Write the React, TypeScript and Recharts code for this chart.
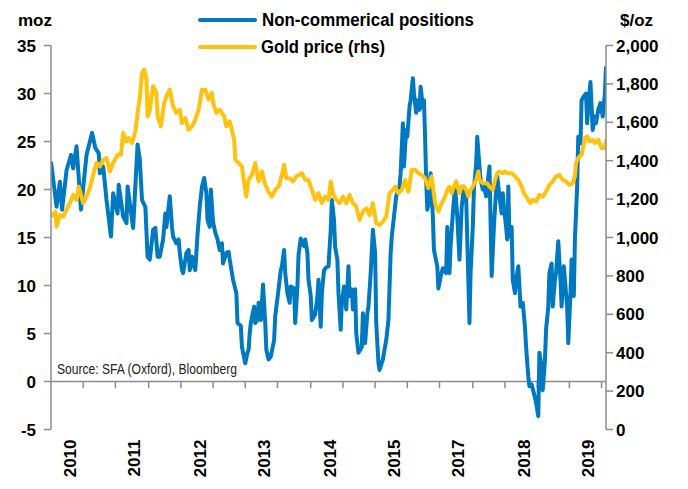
import React from "react";
import { LineChart, Line, XAxis, YAxis, ReferenceLine } from "recharts";

const BLUE = "#0079C1";
const GOLD = "#FFC20E";
const AXIS = "#8C8C8C";
const FONT = "'Liberation Sans', Arial, sans-serif";

// x axis runs in weeks from the start of 2010
const yearLabels = ["2010", "2011", "2012", "2013", "2014", "2015", "2017", "2018", "2019"];
const yearLabelWeeks = [17, 75, 134, 192, 251, 309, 367, 426, 484];
const axisTickWeeks = [29, 58, 88, 117, 146, 175, 204, 234, 263, 292, 321, 350, 380, 409, 438, 467, 496];
const leftTicks = [-5, 0, 5, 10, 15, 20, 25, 30, 35];
const rightTicks = [0, 200, 400, 600, 800, 1000, 1200, 1400, 1600, 1800, 2000];

// Non-commercial positions, moz
const positionWeeks = [
    0, 5, 8, 10, 14, 18, 20, 23, 27, 32, 37, 40, 43, 44, 47, 50, 54, 56, 60, 61, 65, 68, 69, 74, 78, 80,
    82, 85, 87, 89, 92, 94, 96, 98, 101, 103, 104, 107, 109, 110, 113, 115, 116, 118, 119, 122, 124, 125,
    127, 128, 130, 132, 134, 136, 138, 140, 141, 143, 144, 146, 148, 150, 152, 154, 155, 158, 160, 161,
    163, 164, 167, 168, 171, 172, 175, 177, 178, 179, 180, 183, 184, 186, 187, 189, 191, 193, 194, 196,
    198, 201, 202, 205, 207, 208, 210, 211, 213, 215, 216, 219, 220, 222, 223, 225, 226, 228, 229, 231,
    232, 234, 235, 238, 240, 241, 243, 244, 246, 248, 250, 252, 253, 255, 256, 258, 259, 261, 262, 264,
    266, 268, 269, 271, 272, 274, 275, 277, 280, 281, 283, 285, 286, 288, 290, 292, 293, 295, 296, 299,
    300, 302, 304, 306, 307, 309, 311, 314, 315, 317, 318, 320, 321, 323, 324, 326, 327, 329, 330, 332,
    333, 335, 336, 337, 338, 339, 341, 342, 344, 345, 348, 349, 351, 353, 356, 357, 359, 360, 362, 364,
    366, 368, 370, 372, 374, 375, 377, 378, 380, 381, 383, 384, 386, 387, 389, 390, 392, 393, 395, 397,
    399, 401, 402, 404, 406, 407, 408, 410, 411, 412, 413, 415, 416, 418, 419, 421, 423, 425, 427, 428,
    430, 431, 433, 435, 437, 439, 440, 442, 443, 445, 446, 448, 449, 451, 452, 454, 455, 457, 459, 460,
    462, 463, 465, 466, 468, 469, 471, 472, 474, 475, 477, 478, 480, 482, 483, 484, 486, 488, 490, 491,
    493, 495, 497, 499, 500,
];
const positions = [
    22.9, 18.2, 20.8, 17.9, 22, 23.6, 22.2, 24.5, 17.9, 23.6, 25.9, 24.3, 23.8, 21.7, 22.4, 18.9, 15.1, 19.6, 17.5, 20.5, 17.2, 16.5, 20.3, 16, 24.7, 23.1,
    18.9, 18.2, 13, 12.7, 15.8, 16, 13, 13, 14.8, 17.5, 16.1, 19.3, 16.1, 15.1, 14.4, 14.8, 13.4, 11.6, 11.3, 13.4, 13.7, 11.6,
    13, 12.3, 11.6, 15.3, 18.2, 20.3, 21.2, 19.6, 16.8, 16.1, 20, 16.6, 15.5, 14.8, 13.7, 14.4, 12.3, 13.4, 13.5, 12.7,
    11.3, 10.6, 9.2, 6.1, 5.8, 3.6, 1.9, 3, 3.3, 5, 6.1, 7.8, 6.1, 6.4, 8.2, 6.4, 10.1, 6.1, 3.3, 2.3,
    2.6, 4.3, 6.8, 9.6, 11.6, 12, 13.7, 11.3, 9.2, 8.2, 9.9, 9.7, 6.1, 9.9, 13.2, 14.9, 14.4, 14.1, 14.8, 13.4,
    10.6, 8.9, 6.4, 7, 8.8, 10.6, 5.7, 9.2, 11.6, 11.9, 12, 15.8, 18.9, 16.8, 14, 12.7, 9.2, 5.4, 8.2, 9.9,
    7.5, 12, 8.9, 9.6, 7.5, 9.6, 5, 3, 3.6, 7.1, 4, 7.1, 7.8, 11.3, 15.8, 13.4, 6.1, 1.9, 1.2, 2.3,
    3, 4.3, 6.4, 13.4, 15.1, 17.2, 19.3, 20.3, 21.7, 26.9, 22.4, 26.2, 25.5, 28.6, 29.3, 31.6, 30, 28, 29.3, 28.3,
    30.7, 28.6, 29.3, 25.5, 21, 17.9, 18.9, 21.7, 17.2, 13.7, 12, 9.7, 10.9, 11.8, 11.3, 16.1, 11.3, 14.1, 17.5, 20.3,
    17.2, 12.7, 18.2, 20.3, 19.3, 14.8, 6.1, 11.3, 16.1, 20, 22.7, 25.5, 22.4, 21, 20, 20.3, 19.3, 20.3, 22.4, 11,
    16.1, 20, 21.4, 19.3, 17.5, 19.6, 18.2, 16.1, 14.8, 20.3, 15.1, 16.1, 10.6, 9.2, 10.6, 12, 7.8, 8.2, 5.7, 3.6,
    0.5, -0.5, -0.3, -1.2, -2.2, -3.6, 3, 1.6, -0.9, 2.2, 5.4, 7.8, 11.3, 12.3, 7.8, 10.6, 11.3, 14.6, 10.6, 7.8,
    12, 10.6, 7.8, 4, 9.2, 12.7, 8.9, 14.8, 20.3, 25.5, 24.8, 29.3, 29.7, 30, 26.9, 28.6, 31.2, 26.2, 27.6, 26.9,
    28.3, 29, 27.6, 30, 32.8,
];

// Gold price, $/oz
const goldWeeks = [
    0, 4, 5, 8, 11, 14, 17, 20, 23, 25, 29, 32, 35, 38, 41, 44, 47, 50, 53, 56, 60, 63, 65, 68, 70, 73, 76, 78,
    80, 82, 84, 86, 87, 89, 92, 95, 96, 99, 102, 104, 107, 110, 113, 116, 118, 121, 124, 127, 130, 133, 136, 139,
    142, 145, 146, 149, 152, 156, 158, 161, 165, 166, 169, 172, 174, 176, 178, 181, 184, 187, 190, 193, 196, 199,
    202, 205, 208, 210, 212, 215, 218, 221, 226, 229, 232, 235, 238, 241, 244, 247, 250, 252, 254, 257, 260, 263,
    266, 269, 272, 275, 278, 281, 284, 287, 290, 293, 296, 299, 302, 305, 308, 310, 313, 316, 319, 322, 325, 328,
    331, 334, 337, 340, 343, 346, 349, 352, 355, 357, 359, 361, 363, 365, 368, 370, 372, 374, 376, 378, 380, 383,
    385, 386, 389, 391, 393, 395, 398, 400, 402, 404, 407, 409, 411, 415, 418, 421, 424, 426, 429, 432, 434, 437,
    440, 443, 446, 449, 452, 455, 458, 461, 464, 467, 470, 472, 473, 475, 478, 479, 481, 483, 485, 488, 490, 493,
    496, 499, 500,
];
const goldPrices = [
    1109, 1134, 1056, 1117, 1109, 1144, 1179, 1222, 1196, 1265, 1179, 1213, 1258, 1326, 1389, 1370, 1405, 1414, 1344, 1388, 1431, 1431, 1544, 1500, 1518, 1492, 1553, 1649,
    1727, 1857, 1875, 1823, 1631, 1666, 1788, 1753, 1631, 1579, 1701, 1735, 1770, 1683, 1649, 1666, 1596, 1622, 1561, 1579, 1614, 1666, 1770, 1770,
    1718, 1753, 1701, 1649, 1666, 1631, 1579, 1605, 1509, 1405, 1388, 1370, 1283, 1213, 1300, 1326, 1388, 1292, 1344, 1274, 1239, 1213,
    1248, 1265, 1326, 1379, 1309, 1309, 1292, 1318, 1335, 1300, 1300, 1248, 1196, 1231, 1179, 1213, 1196, 1292, 1231, 1196, 1179, 1213,
    1179, 1222, 1179, 1161, 1091, 1135, 1152, 1117, 1179, 1074, 1065, 1083, 1109, 1231, 1248, 1265, 1231, 1248, 1300, 1239, 1353, 1353,
    1335, 1326, 1309, 1257, 1318, 1179, 1135, 1179, 1213, 1248, 1265, 1231, 1265, 1292, 1231, 1265, 1265, 1248, 1213, 1248, 1265, 1300,
    1344, 1300, 1283, 1283, 1283, 1265, 1248, 1300, 1335, 1344, 1335, 1344, 1335, 1335, 1318, 1300, 1265, 1231, 1205, 1179, 1196, 1187,
    1222, 1213, 1239, 1274, 1292, 1318, 1326, 1300, 1292, 1274, 1283, 1318, 1388, 1414, 1431, 1457, 1518, 1527, 1500, 1509, 1492, 1509,
    1466, 1466, 1509,
];

const positionData = positionWeeks.map((w, i) => ({ week: w, value: positions[i] }));
const goldData = goldWeeks.map((w, i) => ({ week: w, value: goldPrices[i] }));

const tickText = { fill: "#000", fontSize: 17, fontWeight: "bold", fontFamily: FONT };

function YearTick(props: any) {
    const { x, y, index } = props;
    return (
        <text
            transform={`translate(${x},${y}) rotate(-90)`}
            textAnchor="end"
            dy="0.36em"
            fill="#000"
            fontSize={17}
            fontWeight="bold"
            fontFamily={FONT}
        >
            {yearLabels[index]}
        </text>
    );
}

function Overlay() {
    return (
        <svg width={688} height={489} style={{ position: "absolute", left: 0, top: 0, pointerEvents: "none" }}>
            <g fontFamily={FONT} fill="#000">
                <text x={18} y={20} dy="0.36em" fontSize={17} fontWeight="bold">moz</text>
                <text x={620} y={20} dy="0.36em" fontSize={17} fontWeight="bold">$/oz</text>
                <line x1={200} x2={255} y1={20} y2={20} stroke={BLUE} strokeWidth={4} strokeLinecap="round" />
                <text x={262} y={20} dy="0.36em" fontSize={18} fontWeight="bold" textLength={212} lengthAdjust="spacingAndGlyphs">
                    Non-commerical positions
                </text>
                <line x1={200} x2={255} y1={47} y2={47} stroke={GOLD} strokeWidth={4} strokeLinecap="round" />
                <text x={261} y={47} dy="0.36em" fontSize={18} fontWeight="bold" textLength={124} lengthAdjust="spacingAndGlyphs">
                    Gold price (rhs)
                </text>
                <text x={57} y={369} dy="0.36em" fontSize={14.5} fill="#222" textLength={180} lengthAdjust="spacingAndGlyphs">
                    Source: SFA (Oxford), Bloomberg
                </text>
            </g>
        </svg>
    );
}

export default function App() {
    return (
        <div style={{ position: "absolute", left: 0, top: 0, width: 688, height: 489, background: "#fff" }}>
            <LineChart width={688} height={489} margin={{ top: 45.5, right: 0, bottom: 0, left: 0 }}>
                <XAxis
                    xAxisId="x"
                    type="number"
                    dataKey="week"
                    domain={[0, 500]}
                    allowDataOverflow
                    ticks={yearLabelWeeks}
                    interval={0}
                    tick={<YearTick />}
                    axisLine={false}
                    tickLine={false}
                    tickSize={0}
                    tickMargin={10}
                    height={59.5}
                />
                <YAxis
                    yAxisId="left"
                    domain={[-5, 35]}
                    ticks={leftTicks}
                    interval={0}
                    width={51}
                    tickSize={7}
                    tickMargin={8}
                    stroke={AXIS}
                    strokeWidth={1.5}
                    tick={tickText}
                />
                <YAxis
                    yAxisId="right"
                    orientation="right"
                    domain={[0, 2000]}
                    ticks={rightTicks}
                    interval={0}
                    width={82}
                    tickSize={7}
                    tickMargin={3}
                    stroke={AXIS}
                    strokeWidth={1.5}
                    tick={tickText}
                    tickFormatter={(v: number) => v.toLocaleString("en-US")}
                />
                <ReferenceLine xAxisId="x" yAxisId="left" y={0} stroke={AXIS} strokeWidth={1.5} />
                {axisTickWeeks.map((w) => (
                    <ReferenceLine
                        key={w}
                        xAxisId="x"
                        yAxisId="left"
                        segment={[{ x: w, y: 0 }, { x: w, y: -0.7 }]}
                        stroke={AXIS}
                        strokeWidth={1.5}
                    />
                ))}
                <Line
                    data={positionData}
                    xAxisId="x"
                    yAxisId="left"
                    dataKey="value"
                    name="Non-commerical positions"
                    stroke={BLUE}
                    strokeWidth={4}
                    strokeLinejoin="round"
                    dot={false}
                    isAnimationActive={false}
                />
                <Line
                    data={goldData}
                    xAxisId="x"
                    yAxisId="right"
                    dataKey="value"
                    name="Gold price (rhs)"
                    stroke={GOLD}
                    strokeWidth={4}
                    strokeLinejoin="round"
                    dot={false}
                    isAnimationActive={false}
                />
            </LineChart>
            <Overlay />
        </div>
    );
}
